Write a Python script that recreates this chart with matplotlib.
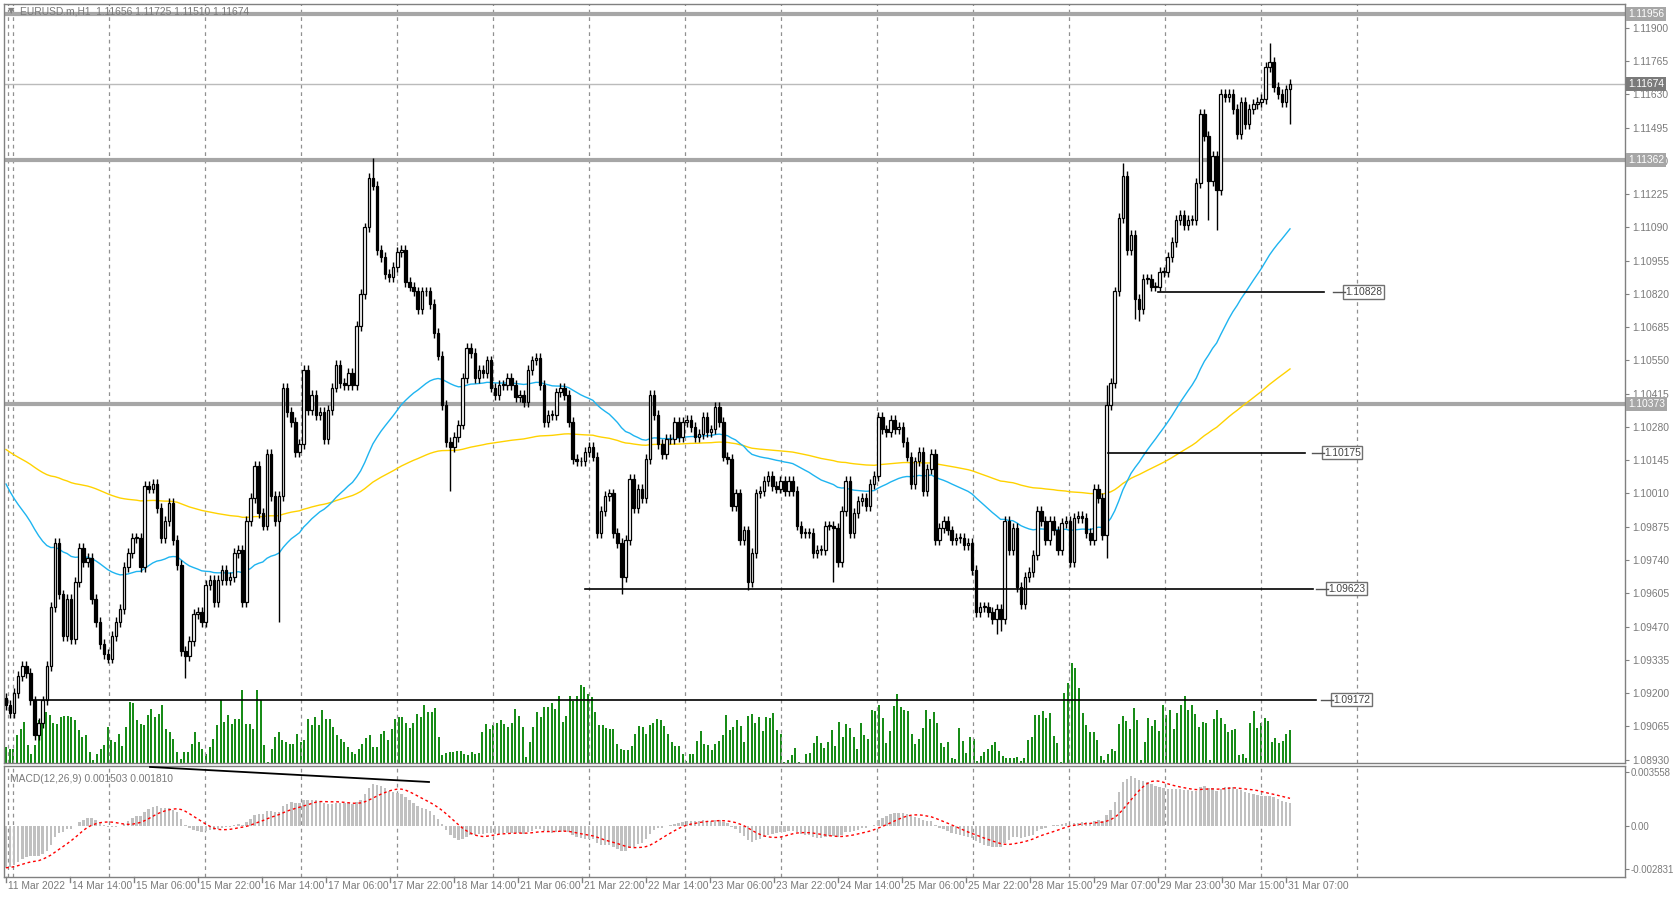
import numpy as np
import pandas as pd
import matplotlib
matplotlib.use("Agg")
import matplotlib.pyplot as plt
from matplotlib.transforms import blended_transform_factory

plt.rcParams['font.family'] = ['Liberation Sans', 'DejaVu Sans']

# ---------------- data ----------------
closes = [
 1.0915,
 1.0912,1.0920,1.0927,1.0931,1.0928,1.0917,1.0903,1.0908,1.0917,1.0931,1.0955,1.0981,1.0960,1.0943,1.0958,1.0942,
 1.0965,1.0979,1.0973,1.0975,1.0958,1.0949,1.0940,1.0936,1.0934,1.0943,1.0949,1.0954,1.0971,1.0977,1.0983,1.0983,
 1.0971,1.1004,1.1003,1.1005,1.0995,1.0983,1.0990,1.0997,1.0982,1.0972,1.0937,1.0935,1.0941,1.0952,1.0953,1.0949,
 1.0964,1.0966,1.0957,1.0966,1.0970,1.0966,1.0967,1.0977,1.0978,1.0957,1.0990,1.0999,1.1012,1.0993,1.0988,1.1017,
 1.1000,1.0990,1.1000,1.1044,1.1034,1.1030,1.1018,1.1021,1.1051,
 1.1035,1.1041,1.1033,1.1034,1.1023,1.1035,1.1044,1.1053,1.1046,1.1045,1.1050,1.1045,1.1069,1.1082,1.1109,1.1129,
 1.1126,1.1100,1.1097,1.1090,1.1089,1.1093,1.1099,1.1100,1.1087,1.1085,1.1083,1.1076,1.1083,1.1083,1.1078,1.1066,
 1.1057,1.1037,1.1022,1.1020,1.1024,1.1029,1.1048,1.1060,1.1058,1.1048,1.1051,1.1050,1.1055,1.1044,1.1041,1.1045,
 1.1045,1.1048,1.1045,1.1040,1.1041,1.1038,1.1051,1.1055,1.1056,1.1045,1.1030,1.1033,1.1033,1.1042,1.1044,1.1041,
 1.1030,1.1015,1.1014,1.1014,1.1018,1.1020,1.1016,1.0985,1.0994,1.1000,1.1001,
 1.0985,1.0981,1.0967,1.0982,1.1007,1.0995,1.1003,1.0999,1.1015,1.1041,1.1033,1.1021,1.1017,1.1023,1.1023,1.1030,
 1.1024,1.1030,1.1031,1.1028,1.1024,1.1025,1.1032,1.1026,1.1027,1.1036,1.1030,1.1016,1.1015,1.0996,1.1001,1.0982,
 1.0986,1.0965,1.0977,1.1001,1.1002,1.1006,1.1008,1.1004,1.1003,1.1006,1.1002,1.1006,1.1002,1.0988,1.0985,1.0985,
 1.0985,1.0977,1.0978,1.0978,1.0988,1.0988,1.0987,1.0973,1.0994,1.1006,1.0985,1.0993,1.0998,1.0999,1.0996,1.1005,
 1.1008,1.1032,1.1027,1.1026,
 1.1031,1.1027,1.1028,1.1022,1.1016,1.1005,1.1014,1.1018,1.1002,1.1011,1.1017,1.0982,1.0987,1.0990,1.0986,1.0982,
 1.0983,1.0983,1.0980,1.0981,1.0970,1.0953,1.0955,1.0955,1.0953,1.0950,1.0954,1.0950,1.0990,1.0978,1.0987,1.0963,
 1.0956,1.0967,1.0969,1.0976,1.0994,1.0990,1.0982,1.0990,1.0986,1.0978,1.0989,1.0990,1.0973,1.0991,1.0992,1.0991,
 1.0985,1.0982,1.1003,1.0999,1.0984,1.1037,1.1046,1.1083,1.1113,1.1130,1.1100,1.1106,1.1080,1.1076,1.1088,1.1088,
 1.1085,1.1085,1.1091,1.1091,1.1097,1.1103,1.1112,1.1114,1.1110,1.1112,1.1112,1.1127,
 1.1155,1.1146,1.1128,1.1138,1.1124,1.1163,1.1162,1.1163,1.1157,1.1147,1.1160,1.1151,1.1157,1.1159,1.1160,1.1161,
 1.1174,1.1176,1.1166,1.1163,1.1160,1.1165,1.11674,
]
first_open = 1.0918
wick_overrides = {  # index: (high, low)
    44: (None, 1.0926), 67: (None, 1.0949), 90: (1.1137, None), 109: (None, 1.1002),
    151: (None, 1.0960), 182: (None, 1.0962), 203: (None, 1.0965), 243: (None, 1.0944),
    244: (None, 1.0945), 270: (1.1045, 1.0975), 274: (1.1135, None), 277: (None, 1.1072),
    278: (None, 1.1071), 295: (None, 1.1112), 297: (None, 1.1108), 310: (1.1184, None),
    315: (None, 1.1151),
}
vol_px = [
 16,14,14,28,34,41,18,9,18,43,58,51,48,40,39,46,47,47,46,43,33,26,28,11,3,9,14,18,36,23,21,29,17,36,61,60,43,39,38,
 48,54,46,49,58,34,31,24,11,4,11,11,19,31,21,14,9,16,24,38,63,41,48,39,44,44,73,39,39,34,73,63,18,1,14,26,31,23,21,19,
 19,29,21,23,44,38,46,38,53,44,44,36,28,24,21,16,11,9,14,19,25,28,16,16,29,32,23,34,44,46,46,40,35,40,49,46,58,51,51,
 55,26,8,10,11,11,12,12,9,8,11,9,10,31,39,34,38,40,43,39,36,40,54,47,36,6,21,36,51,46,56,56,60,54,67,41,47,67,62,67,
 78,76,69,66,51,38,38,35,34,34,
 19,14,13,13,17,29,37,36,29,38,40,44,43,37,29,21,17,17,9,2,9,9,22,32,19,18,13,19,22,28,48,33,36,43,37,21,47,49,40,
 46,32,46,45,50,33,29,1,3,8,15,1,0,9,10,20,27,20,15,21,33,17,41,26,39,35,26,14,40,28,24,53,52,58,45,20,32,57,69,56,
 53,52,29,19,24,35,53,44,51,40,20,16,21,5,4,35,22,10,26,24,2,7,11,14,18,21,12,7,5,5,5,6,2,5,23,26,48,48,52,45,50,
 27,20,1,
 70,80,100,95,75,50,38,31,31,23,7,3,9,14,12,39,47,42,34,55,43,3,21,45,37,43,32,58,48,53,34,50,58,67,53,58,49,36,41,
 40,3,44,53,45,39,31,33,34,8,9,5,40,52,35,40,45,42,21,25,20,22,29,33
]
ema_fast_seed, ema_slow_seed = 1.0935, 1.0963
ma_blue_seed, ma_gold_seed = 1.1008, 1.1020
hlines_thick = [1.11956, 1.11362, 1.10373]
last_price = 1.11674
levels = [(1.10828, 288, 329.5, 1345), (1.10175, 275.5, 324.75, 1324),
          (1.09623, 144.75, 326.75, 1328), (1.09172, 6.5, 327.5, 1333)]
date_labels = ["11 Mar 2022", "14 Mar 14:00", "15 Mar 06:00", "15 Mar 22:00", "16 Mar 14:00",
               "17 Mar 06:00", "17 Mar 22:00", "18 Mar 14:00", "21 Mar 06:00", "21 Mar 22:00",
               "22 Mar 14:00", "23 Mar 06:00", "23 Mar 22:00", "24 Mar 14:00", "25 Mar 06:00",
               "25 Mar 22:00", "28 Mar 15:00", "29 Mar 07:00", "29 Mar 23:00", "30 Mar 15:00",
               "31 Mar 07:00"]
price_ticks = [1.08930 + 0.00135 * k for k in range(23)]

# ---------------- derived ----------------
c = np.array(closes)
N = len(c)
o = np.concatenate([[first_open], c[:-1]])
w = 0.0002
hi = np.maximum(o, c) + w
lo = np.minimum(o, c) - w
for k, (h, l) in wick_overrides.items():
    if k < N:
        if h is not None: hi[k] = h
        if l is not None: lo[k] = l
xs = np.arange(N) * 321.0 / (N - 1)

def ema(series, n, seed):
    a = 2.0 / (n + 1); out = []; v = seed
    for x in series:
        v = v + a * (x - v); out.append(v)
    return np.array(out)
blue = ema(c, 58, ma_blue_seed)
gold = ema(c, 185, ma_gold_seed)
macd = ema(c, 12, ema_fast_seed) - ema(c, 26, ema_slow_seed)
signal = pd.Series(macd).rolling(9, min_periods=1).mean().values

# ---------------- figure ----------------
W, H = 1673, 897
fig = plt.figure(figsize=(W / 100, H / 100), dpi=100)
fig.patch.set_facecolor("white")
GREY = "#808080"; TXT = "#7a7a7a"; FS = 7.4

def px_axes(x0, y0, x1, y1):
    return fig.add_axes([x0 / W, 1 - y1 / H, (x1 - x0) / W, (y1 - y0) / H])

ax = px_axes(4, 4, 1625, 763)
axm = px_axes(4, 766, 1625, 877)
xlim = (-0.5, (1625 - 6) / 4)

# volume (behind)
axv = ax.twinx()
axv.set_ylim(0, 759)
axv.set_xlim(*xlim)
axv.axis("off")
vx = np.linspace(0, 321, len(vol_px))
axv.vlines(vx, 0, vol_px, color="#008000", lw=1.3)
axv.set_zorder(0)
ax.set_zorder(1)
ax.patch.set_visible(False)

for a in (ax, axm):
    a.set_xlim(*xlim)
    for sp in a.spines.values():
        sp.set_color(GREY); sp.set_linewidth(1)
    a.set_xticks([])
    a.yaxis.tick_right()
    a.yaxis.set_label_position("right")
    a.tick_params(axis="y", which="both", left=False, labelleft=False, right=True, labelright=True,
                  colors=GREY, labelcolor=TXT, labelsize=FS, length=3, pad=2)
    for g in [0.6] + [1.75 + 24 * k for k in range(15)]:
        a.axvline(g, color="#909090", lw=0.9, ls=(0, (3, 3)), zorder=0)

ax.set_ylim(1.08916, 1.11997)
ax.set_yticks(price_ticks)
ax.set_yticklabels([f"{v:.5f}" for v in price_ticks])

# thick grey lines
for v in hlines_thick:
    ax.axhline(v, color="#a6a6a6", lw=3, zorder=1)
ax.axhline(last_price, color="#bbbbbb", lw=1, zorder=1)

# MAs
ax.plot(xs, gold, color="#FFD200", lw=1, zorder=2)
ax.plot(xs, blue, color="#1EB4F0", lw=1, zorder=2)

# candles
ax.vlines(xs, lo, hi, color="black", lw=1, zorder=3)
up = c >= o
body_h = np.maximum(np.abs(c - o), 0.00003)
ax.bar(xs[up], body_h[up], bottom=np.minimum(o, c)[up], width=0.62, color="white",
       edgecolor="black", linewidth=0.9, zorder=4)
ax.bar(xs[~up], body_h[~up], bottom=np.minimum(o, c)[~up], width=0.62, color="black",
       edgecolor="black", linewidth=0.9, zorder=4)

# level lines with labels
tr = blended_transform_factory(fig.transFigure, ax.transData)
for v, x0, x1, lpx in levels:
    ax.plot([x0, x1], [v, v], color="black", lw=1.2, zorder=5)
    ax.plot([(lpx - 12 - 6) / 4, (lpx - 6) / 4], [v, v], color="#555555", lw=1, zorder=5, clip_on=False)
    ax.text(lpx / W, v, f"{v:.5f}", transform=tr, fontsize=FS, color="#444444", va="center", ha="left",
            bbox=dict(facecolor="white", edgecolor="#707070", boxstyle="square,pad=0.15", lw=1))

# right axis boxes
trr = blended_transform_factory(ax.transAxes, ax.transData)
for v in hlines_thick + [last_price]:
    ax.text(1.0 + 3 / 1621, v, f"{v:.5f}", transform=trr, fontsize=FS, color="white", va="center",
            ha="left", zorder=10, clip_on=False,
            bbox=dict(facecolor="#7a7a7a" if v == last_price else "#a6a6a6", edgecolor="none",
                      boxstyle="square,pad=0.2"))

# header
fig.text(8 / W, 1 - 11 / H, "▼", fontsize=6, color=GREY, va="center", family="DejaVu Sans")
fig.text(20 / W, 1 - 11 / H, "EURUSD.m,H1  1.11656 1.11725 1.11510 1.11674", fontsize=FS,
         color=TXT, va="center")

# MACD panel
axm.set_ylim(-0.00336, 0.003953)
axm.bar(xs, macd, width=0.6, color="#c0c0c0", zorder=2)
axm.plot(xs, signal, color="red", lw=1, ls=(0, (2, 2)), zorder=3)
axm.plot([36, 105.75], [0.00389, 0.0029], color="black", lw=1.3, zorder=4)
axm.set_yticks([0.003558, 0.0, -0.002831])
axm.set_yticklabels(["0.003558", "0.00", "-0.002831"])
axm.tick_params(axis="y", labelsize=6.9, pad=1)
axm.text(0.004, 0.93, "MACD(12,26,9) 0.001503 0.001810", transform=axm.transAxes, fontsize=FS,
         color=TXT, va="top")

# date labels
trx = blended_transform_factory(axm.transData, fig.transFigure)
for k, lab in enumerate(date_labels):
    b = 16 * k
    axm.plot([b, b], [1 - 877 / H, 1 - 882 / H], transform=trx, color=GREY, lw=1, clip_on=False)
    axm.text(b + 0.6, 1 - 886 / H, lab, transform=trx, fontsize=FS, color=TXT, va="center", ha="left")

fig.savefig("out.png", dpi=100, facecolor="white")
